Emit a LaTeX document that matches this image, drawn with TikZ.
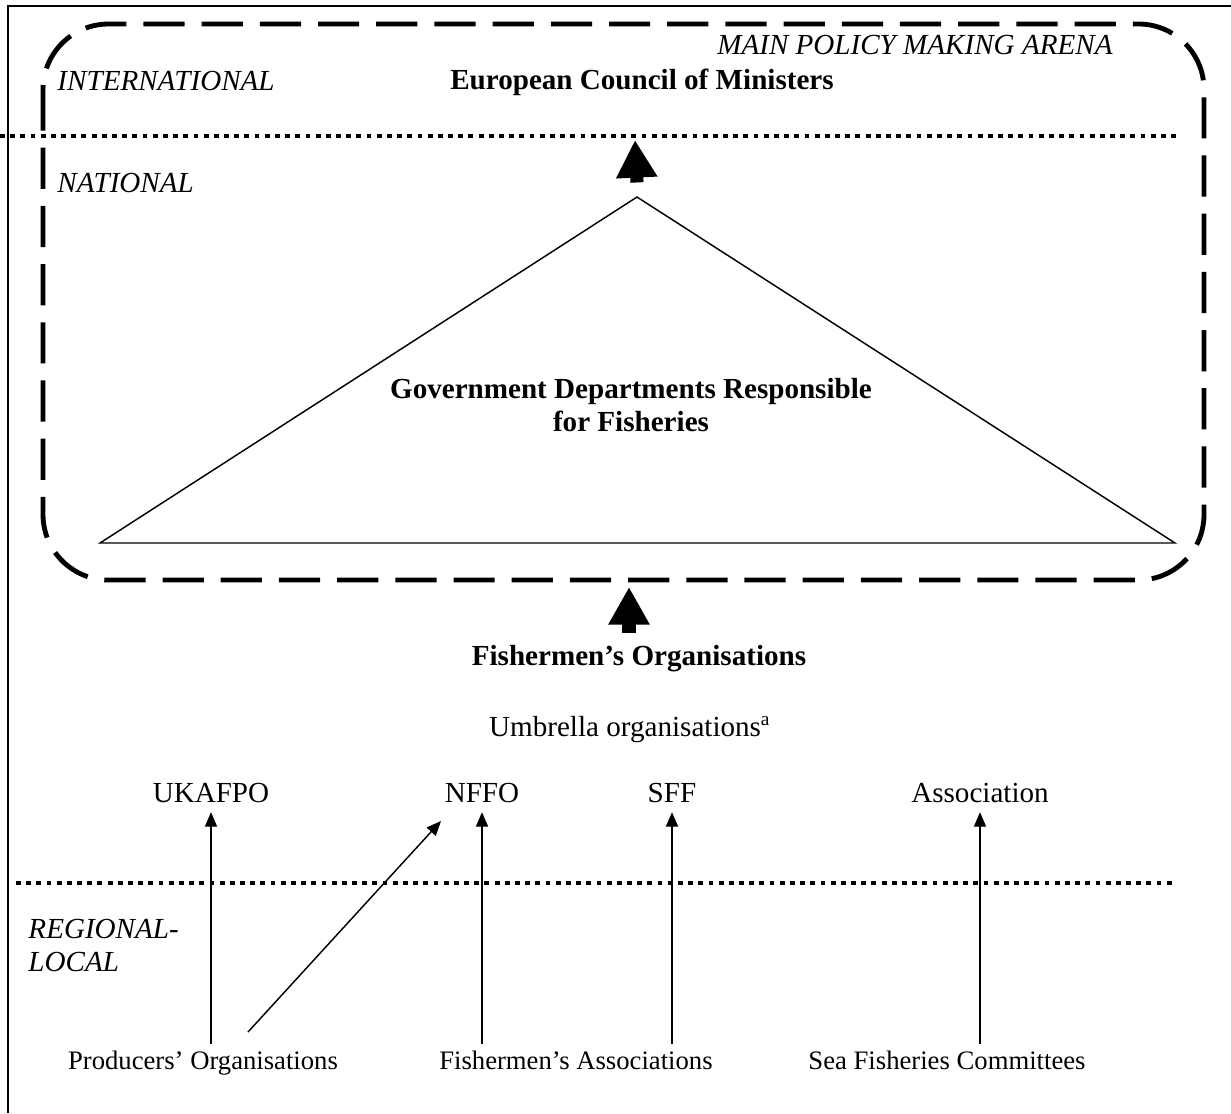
\documentclass[tikz,border=0pt]{standalone}
\usepackage{fontspec}
\setmainfont{Liberation Serif}
\usetikzlibrary{arrows.meta}

\tikzset{
  tier/.style={font=\fontsize{12}{13.6}\selectfont\itshape, inner sep=0pt, anchor=base west},
  head/.style={font=\fontsize{12}{13.5}\selectfont\bfseries, inner sep=0pt, align=center},
  org/.style={font=\fontsize{12}{14}\selectfont, inner sep=0pt, anchor=base},
  member/.style={font=\fontsize{11}{13}\selectfont, inner sep=0pt, anchor=base},
  divider/.style={line width=1.7pt, dash pattern=on 2pt off 2.2pt},
  arena/.style={line width=2pt, dash pattern=on 17pt off 7pt, rounded corners=27pt},
  bigarrow/.style={line width=5.4pt, -{Triangle[length=15.5pt,width=16pt]}},
  thinarrow/.style={line width=0.6pt, -{Triangle[length=6pt,width=5pt]}},
}

\begin{document}
\begin{tikzpicture}[x=0.4124pt,y=-0.4124pt]
    \useasboundingbox (0,0) rectangle (1231,1113);

    % Frame (only top and left edges show)
    \draw[line width=0.8pt] (8,1113) -- (8,6) -- (1231,6);

    % Policy making arena
    \draw[arena] (43,24) rectangle (1204,580);

    % Level dividers
    \draw[divider] (0,136) -- (1180,136);
    \draw[divider] (16,883) -- (1173,883);

    % Level labels
    \node[tier, anchor=base east] (arenalbl) at (1113,54) {MAIN POLICY MAKING ARENA};
    \node[tier] (intl) at (57,90) {INTERNATIONAL};
    \node[tier] (natl) at (57,192) {NATIONAL};
    \node[tier, align=left] (regloc) at (28,971) {REGIONAL-\\LOCAL};

    % International and national bodies
    \node[head, anchor=base] (ecm) at (642,89) {European Council of Ministers};
    \draw[line width=0.6pt] (100,543) coordinate (tl) -- (637,197) coordinate (apex)
        -- (1175,543) coordinate (tr) -- cycle;
    \node[head] (gdrf) at (631,405) {Government Departments Responsible\\for Fisheries};
    \coordinate (ecmin) at (635,140);
    \draw[bigarrow] ([yshift=6pt]apex) -- (ecmin);

    % Fishermen's organisations
    \node[head, anchor=base] (fo) at (639,665) {Fishermen's Organisations};
    \coordinate (foout) at (629,633);
    \coordinate (arenain) at (629,587);
    \draw[bigarrow] (foout) -- (arenain);
    \node[org] (umb) at (630,736) {Umbrella organisations\textsuperscript{a}};

    % Umbrella organisations
    \node[org] (ukafpo) at (211,802) {UKAFPO};
    \node[org] (nffo) at (482,802) {NFFO};
    \node[org] (sff) at (672,802) {SFF};
    \node[org] (assoc) at (980,802) {Association};

    % Regional and local bodies
    \node[member] (po) at (203,1069) {Producers' Organisations};
    \node[member] (fa) at (576,1069) {Fishermen's Associations};
    \node[member] (sfc) at (947,1069) {Sea Fisheries Committees};

    % Membership links
    \draw[thinarrow] ([yshift=10.5pt]po.base -| ukafpo) -- ([yshift=-4.2pt]ukafpo.base);
    \draw[thinarrow] ([yshift=10.5pt]fa.base -| nffo) -- ([yshift=-4.2pt]nffo.base);
    \draw[thinarrow] ([yshift=10.5pt]fa.base -| sff) -- ([yshift=-4.2pt]sff.base);
    \draw[thinarrow] ([yshift=10.5pt]sfc.base -| assoc) -- ([yshift=-4.2pt]assoc.base);
    \coordinate (podiag) at (248,1032);
    \coordinate (nffodiag) at (441,821);
    \draw[thinarrow] (podiag) -- (nffodiag);
\end{tikzpicture}
\end{document}
